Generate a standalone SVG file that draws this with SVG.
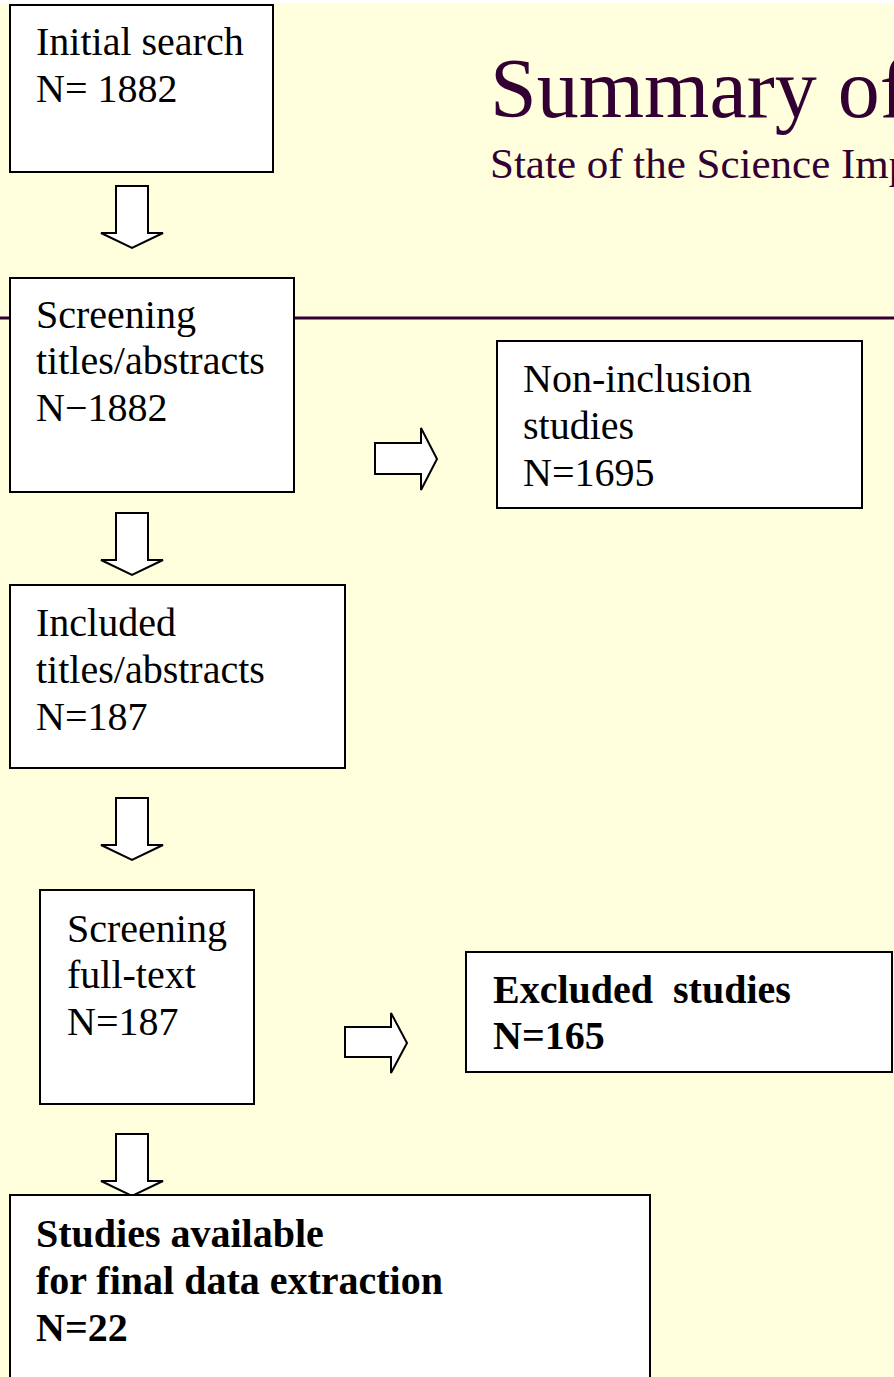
<svg xmlns="http://www.w3.org/2000/svg" width="894" height="1377" viewBox="0 0 894 1377">
<style>
.bg{fill:#FFFFDD}
.box{fill:#FFFFFF;stroke:#000000;stroke-width:2}
.arr{fill:#FFFFFF;stroke:#000000;stroke-width:2;stroke-linejoin:miter}
.t{font-family:"Liberation Serif","Times New Roman",serif;font-size:40px;fill:#000000}
.b{font-weight:bold}
.title{font-family:"Liberation Serif","Times New Roman",serif;fill:#330033}
</style>
<rect x="0" y="0" width="894" height="1377" class="bg"/>
<rect x="0" y="0" width="894" height="3" fill="#FFFFFF"/>
<line x1="0" y1="318" x2="894" y2="318" stroke="#330033" stroke-width="3"/>
<g id="title">
<text x="490" y="117" class="title" font-size="84">Summary of</text>
<text x="490" y="178" class="title" font-size="43">State of the Science Imp</text>
</g>
<g id="connectors">
<path class="arr" d="M116,186 H148 V233 H163 L132,248 L101,233 H116 Z"/>
<path class="arr" d="M116,513 H148 V560 H163 L132,575 L101,560 H116 Z"/>
<path class="arr" d="M116,798 H148 V845 H163 L132,860 L101,845 H116 Z"/>
<path class="arr" d="M116,1134 H148 V1181 H163 L132,1196 L101,1181 H116 Z"/>
<path class="arr" d="M375,443 H421 V428 L437,459 L421,490 V474 H375 Z"/>
<path class="arr" d="M345,1027 H391 V1013 L407,1043 L391,1073 V1057 H345 Z"/>
</g>
<g id="initial-search">
<rect x="10" y="5" width="263" height="167" class="box"/>
<text class="t" x="36" y="55">Initial search</text>
<text class="t" x="36" y="102">N= 1882</text>
</g>
<g id="screening-titles">
<rect x="10" y="278" width="284" height="214" class="box"/>
<text class="t" x="36" y="328">Screening</text>
<text class="t" x="36" y="374">titles/abstracts</text>
<text class="t" x="36" y="421">N−1882</text>
</g>
<g id="non-inclusion">
<rect x="497" y="341" width="365" height="167" class="box"/>
<text class="t" x="523" y="392">Non-inclusion</text>
<text class="t" x="523" y="439">studies</text>
<text class="t" x="523" y="486">N=1695</text>
</g>
<g id="included-titles">
<rect x="10" y="585" width="335" height="183" class="box"/>
<text class="t" x="36" y="636">Included</text>
<text class="t" x="36" y="683">titles/abstracts</text>
<text class="t" x="36" y="730">N=187</text>
</g>
<g id="screening-fulltext">
<rect x="40" y="890" width="214" height="214" class="box"/>
<text class="t" x="67" y="942">Screening</text>
<text class="t" x="67" y="988">full-text</text>
<text class="t" x="67" y="1035">N=187</text>
</g>
<g id="excluded">
<rect x="466" y="952" width="426" height="120" class="box"/>
<text class="t b" x="493" y="1003" xml:space="preserve">Excluded  studies</text>
<text class="t b" x="493" y="1049">N=165</text>
</g>
<g id="final">
<rect x="10" y="1195" width="640" height="200" class="box"/>
<text class="t b" x="36" y="1247">Studies available</text>
<text class="t b" x="36" y="1294">for final data extraction</text>
<text class="t b" x="36" y="1341">N=22</text>
</g>
</svg>
